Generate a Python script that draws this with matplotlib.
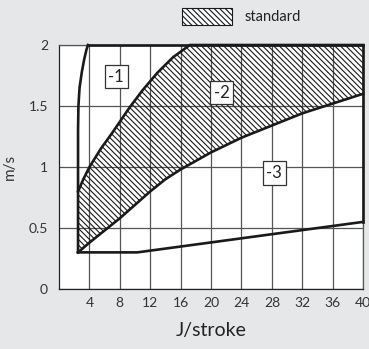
import matplotlib.pyplot as plt
from matplotlib.patches import Patch

plt.rcParams["font.family"] = ["Lato", "DejaVu Sans"]
plt.rcParams["hatch.linewidth"] = 0.8

# outer boundary of the working range
left_x = [2.5, 2.5, 2.55, 2.7, 3.0, 3.3, 3.6, 3.8]
left_y = [0.3, 1.3, 1.5, 1.65, 1.78, 1.88, 1.96, 2.0]
bottom_x = [2.5, 10.3, 40]
bottom_y = [0.3, 0.3, 0.55]

# standard (hatched) band
upper_x = [2.5, 3.2, 4, 5.5, 7, 9.3, 11, 12.9, 15, 17.2, 40]
upper_y = [0.8, 0.9, 1.0, 1.15, 1.28, 1.49, 1.63, 1.77, 1.9, 2.0, 2.0]
lower_x = [2.5, 4, 6, 8, 10, 12, 14, 16, 18, 20, 24, 28, 32, 36, 40]
lower_y = [0.3, 0.38, 0.48, 0.58, 0.69, 0.8, 0.9, 0.98, 1.05, 1.12, 1.24,
           1.34, 1.44, 1.52, 1.6]

labels = ["-1", "-2", "-3"]
label_x = [7.5, 21.4, 28.3]
label_y = [1.74, 1.61, 0.95]

xticks = [4, 8, 12, 16, 20, 24, 28, 32, 36, 40]
yticks = [0, 0.5, 1, 1.5, 2]
ytick_labels = ["0", "0.5", "1", "1.5", "2"]

bg = "#e6e7e9"
ink = "#1a1a1a"

fig = plt.figure(figsize=(3.69, 3.49), dpi=100, facecolor=bg)
ax = fig.add_axes([0.160, 0.172, 0.824, 0.699])
ax.set_facecolor("white")

ax.set_xlim(0, 40)
ax.set_ylim(0, 2)
ax.set_xticks(xticks)
ax.set_yticks(yticks)
ax.set_yticklabels(ytick_labels)
ax.tick_params(length=0, labelsize=10, labelcolor="#333333")
ax.tick_params(axis="y", pad=8)
ax.tick_params(axis="x", pad=6)
ax.grid(True, color="#555555", linewidth=0.9)
ax.set_axisbelow(True)
for s in ax.spines.values():
    s.set_color("#555555")
    s.set_linewidth(0.9)
ax.spines["left"].set_color("#222222")
ax.spines["bottom"].set_color("#222222")

# hatched band
band_x = upper_x + lower_x[::-1]
band_y = upper_y + lower_y[::-1]
ax.fill(band_x, band_y, facecolor="none", edgecolor=ink, hatch="\\\\\\\\\\\\",
        linewidth=0, zorder=2)

lw = 1.9
ax.plot(upper_x, upper_y, color=ink, lw=lw, zorder=3, clip_on=False)
ax.plot(lower_x, lower_y, color=ink, lw=lw, zorder=3, clip_on=False)
ax.plot(left_x, left_y, color=ink, lw=lw, zorder=3, clip_on=False)
ax.plot(bottom_x, bottom_y, color=ink, lw=lw, zorder=3, clip_on=False)
ax.plot([3.8, 40], [2, 2], color=ink, lw=lw, zorder=3, clip_on=False)
ax.plot([40, 40], [bottom_y[-1], 2], color=ink, lw=lw, zorder=3, clip_on=False)

for t, x, y in zip(labels, label_x, label_y):
    ax.text(x, y, t, ha="center", va="center", fontsize=12, color="#222222",
            zorder=4,
            bbox=dict(boxstyle="square,pad=0.22", facecolor="white",
                      edgecolor="#333333", linewidth=0.9))

ax.set_xlabel("J/stroke", fontsize=14, color="#222222", labelpad=9)
ax.set_ylabel("m/s", fontsize=11, color="#333333", labelpad=8)

handle = Patch(facecolor="white", edgecolor=ink, hatch="\\\\\\\\\\\\",
               linewidth=0.8, label="standard")
fig.legend(handles=[handle], loc="center", bbox_to_anchor=(0.655, 0.953),
           frameon=False, fontsize=10.5, handlelength=3.4, handleheight=1.35,
           handletextpad=0.9, labelcolor="#222222")

fig.savefig("out.png", dpi=100, facecolor=bg)
